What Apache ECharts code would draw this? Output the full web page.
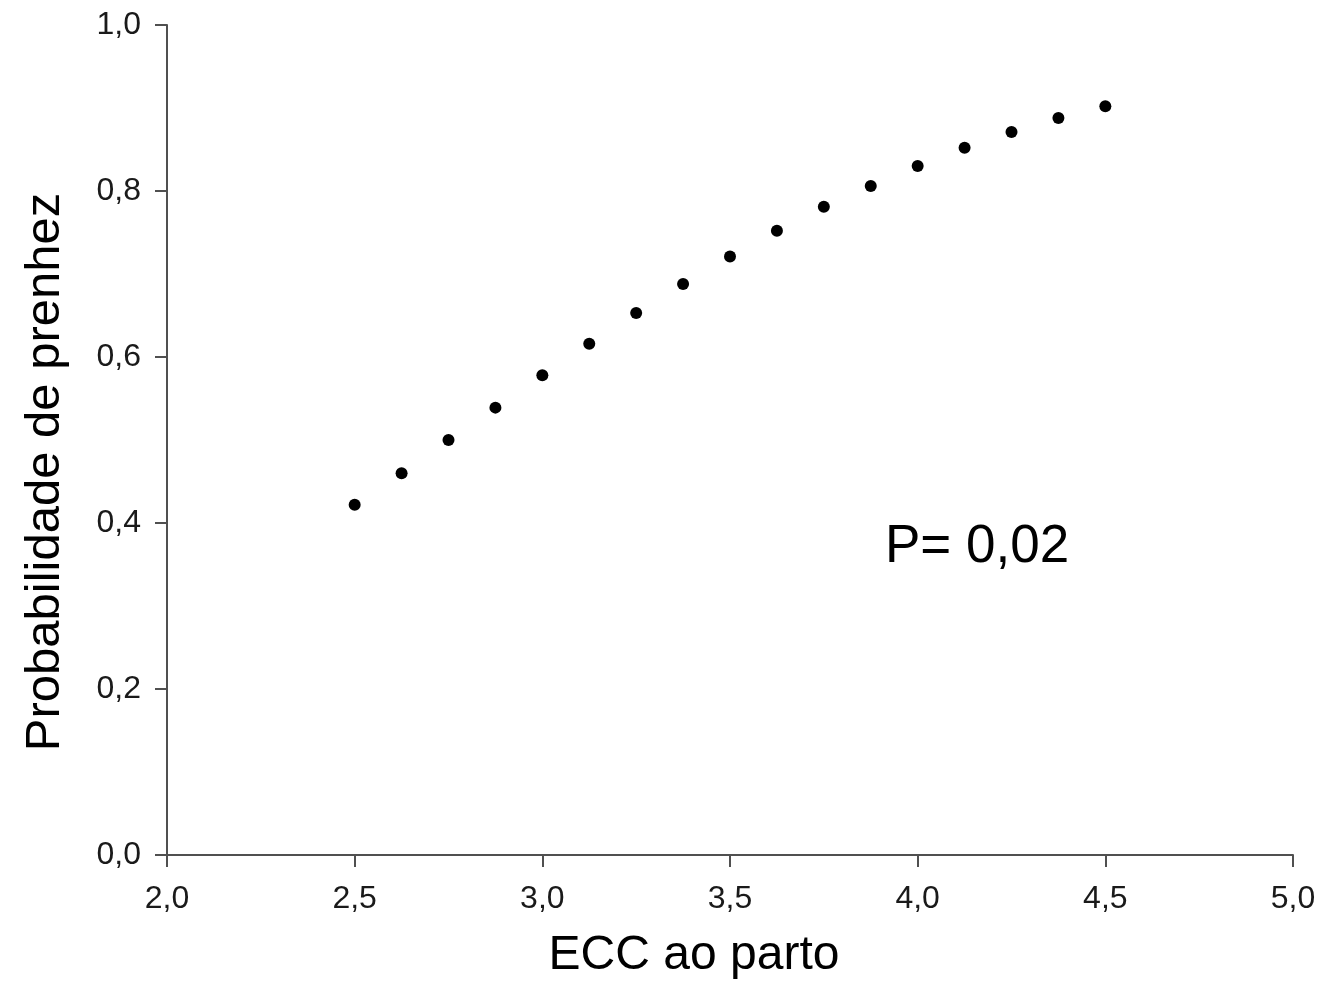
<!DOCTYPE html>
<html>
<head>
<meta charset="utf-8">
<script src="https://cdn.jsdelivr.net/npm/echarts@6/dist/echarts.min.js"></script>
<style>html,body{margin:0;padding:0;background:#fff}#c{width:1321px;height:982px}</style>
</head>
<body>
<div id="c"></div>
<script>
const ecc = [2.5, 2.625, 2.75, 2.875, 3.0, 3.125, 3.25, 3.375, 3.5, 3.625, 3.75, 3.875, 4.0, 4.125, 4.25, 4.375, 4.5];
const prob = [0.422, 0.460, 0.500, 0.539, 0.578, 0.616, 0.653, 0.688, 0.721, 0.752, 0.781, 0.806, 0.830, 0.852, 0.871, 0.888, 0.902];
const xTitle = 'ECC ao parto';
const yTitle = 'Probabilidade de prenhez';
const annotation = 'P= 0,02';

const fmt = v => v.toFixed(1).replace('.', ',');
const chart = echarts.init(document.getElementById('c'), null, {renderer: 'canvas'});
const axisCommon = {
  axisLine: {show: true, lineStyle: {color: '#505050', width: 2}},
  axisTick: {show: true, inside: false, length: 12, lineStyle: {color: '#505050', width: 2}},
  splitLine: {show: false},
  axisLabel: {color: '#1a1a1a', fontFamily: 'Liberation Sans, Arial, sans-serif', fontSize: 32, formatter: fmt}
};
chart.setOption({
  backgroundColor: '#fff',
  animation: false,
  grid: {left: 167, right: 28, top: 25, bottom: 127, containLabel: false},
  xAxis: Object.assign({type: 'value', min: 2, max: 5, interval: 0.5}, axisCommon,
    {axisLabel: Object.assign({}, axisCommon.axisLabel, {margin: 28})}),
  yAxis: Object.assign({type: 'value', min: 0, max: 1, interval: 0.2}, axisCommon,
    {axisLabel: Object.assign({}, axisCommon.axisLabel, {margin: 26})}),
  series: [{
    type: 'scatter',
    data: ecc.map((x, i) => [x, prob[i]]),
    symbol: 'circle',
    symbolSize: 12,
    itemStyle: {color: '#000', opacity: 1}
  }],
  graphic: [
    {type: 'text', x: 694, y: 956, style: {text: xTitle, fill: '#000', font: '48px "Liberation Sans", Arial, sans-serif', align: 'center', verticalAlign: 'middle'}, z: 10},
    {type: 'text', x: 45, y: 472, rotation: Math.PI / 2, style: {text: yTitle, fill: '#000', font: '49px "Liberation Sans", Arial, sans-serif', align: 'center', verticalAlign: 'middle'}, z: 10},
    {type: 'text', x: 885, y: 547, style: {text: annotation, fill: '#000', font: '53px "Liberation Sans", Arial, sans-serif', align: 'left', verticalAlign: 'middle'}, z: 10}
  ]
});
</script>
</body>
</html>
